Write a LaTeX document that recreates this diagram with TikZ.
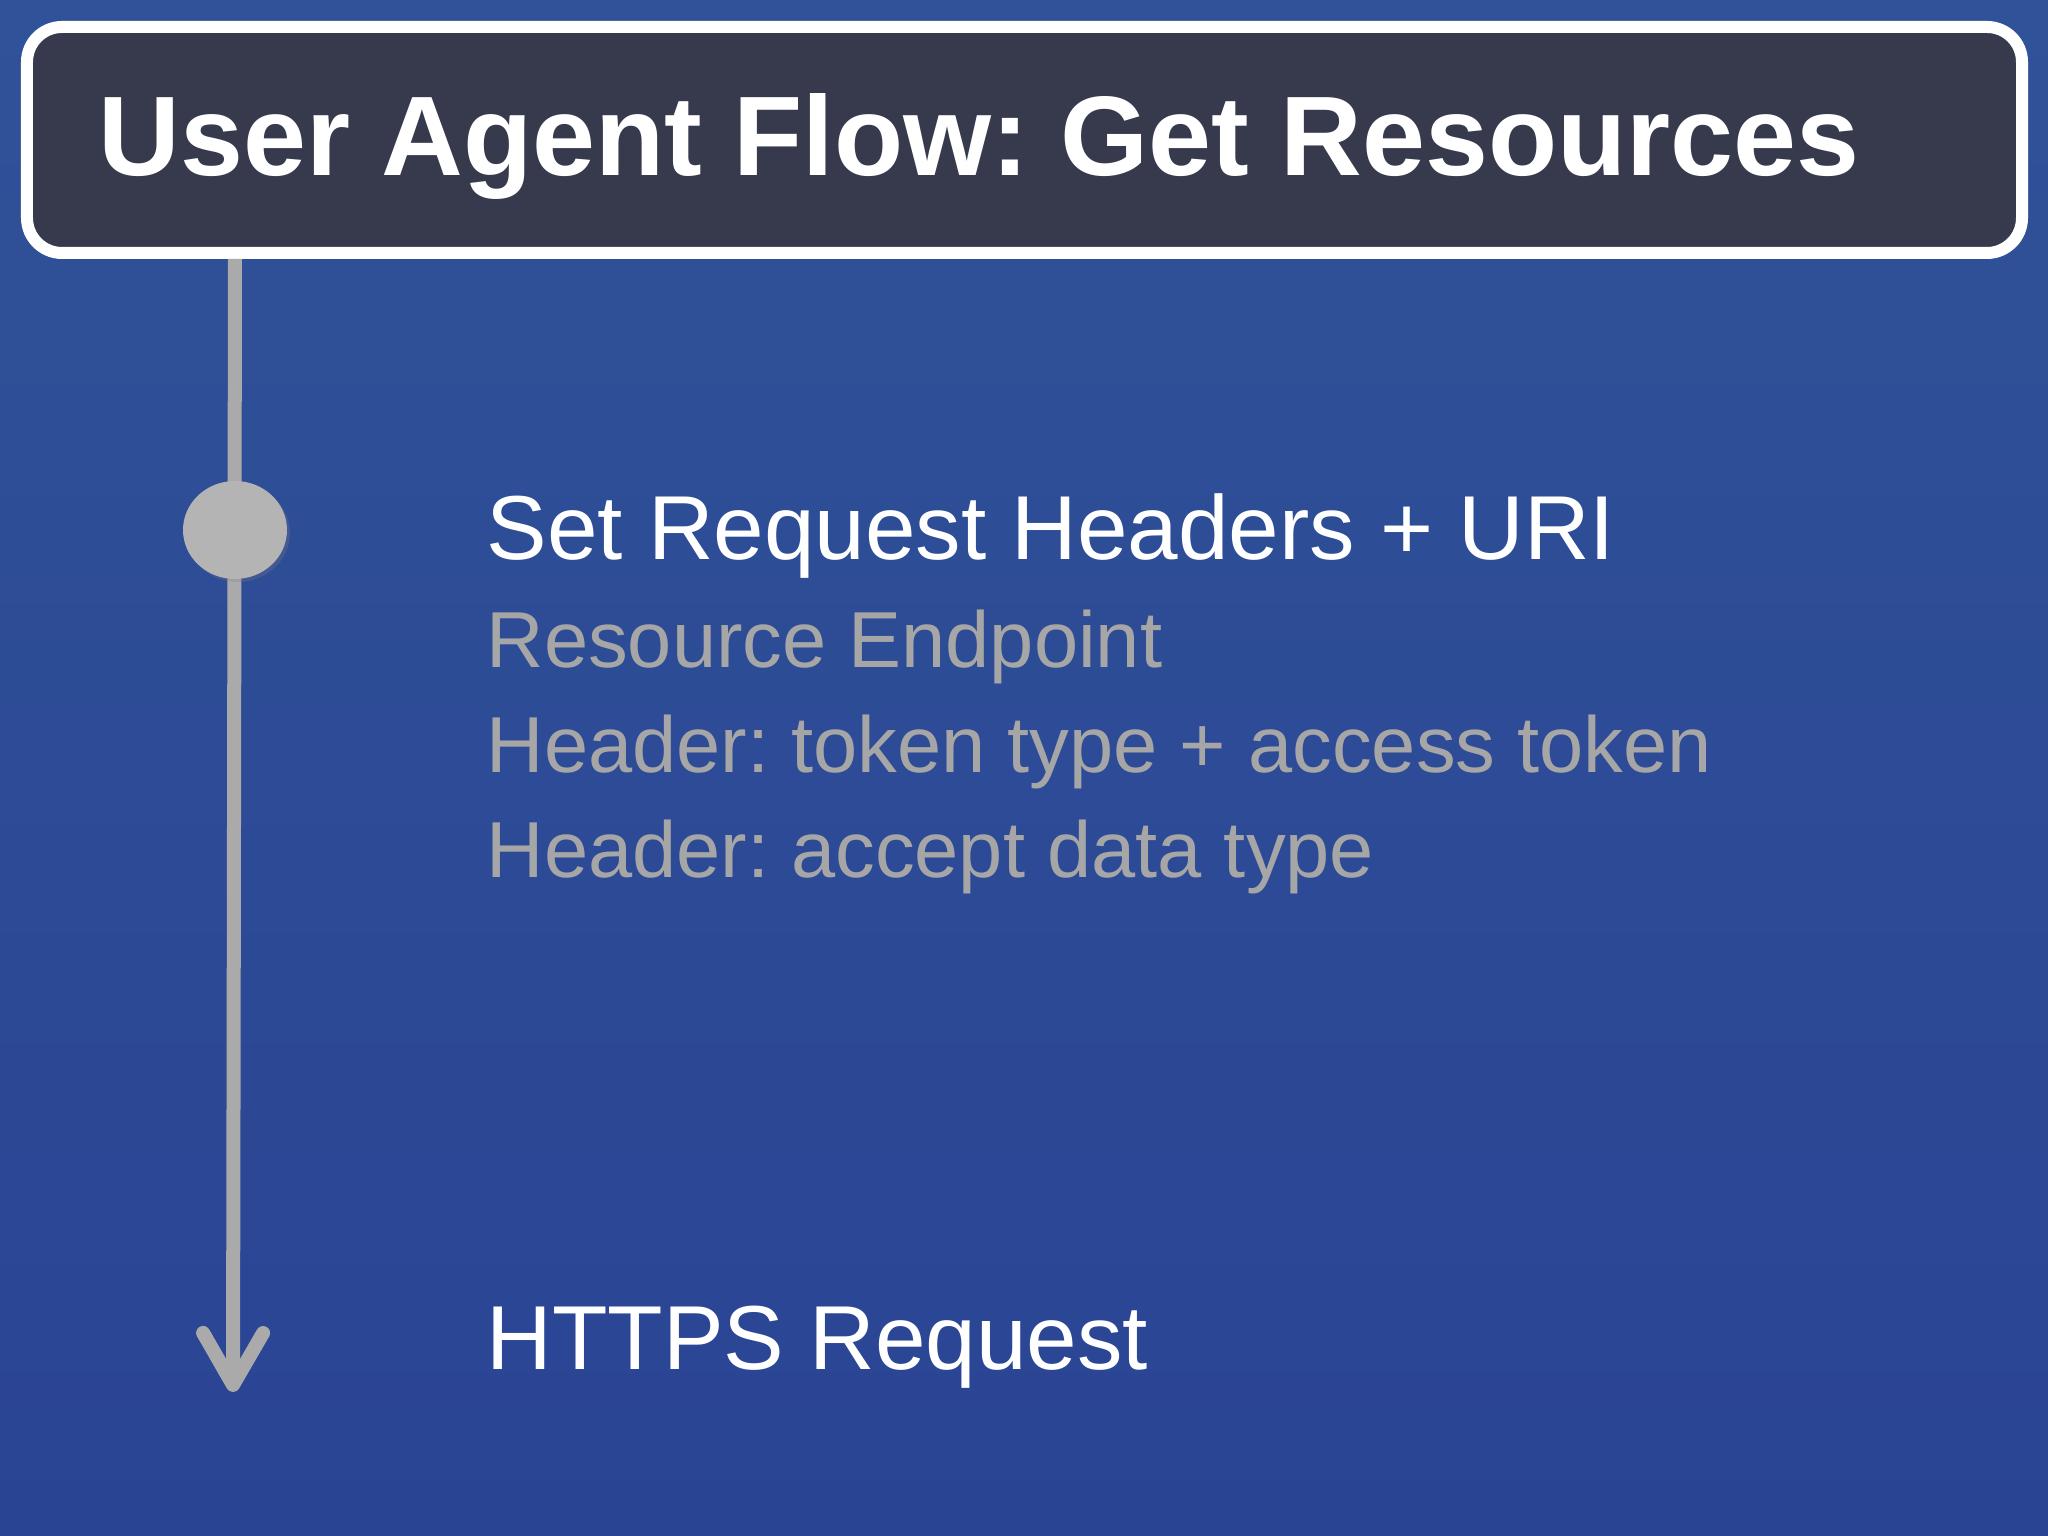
\documentclass[tikz,border=0pt]{standalone}
\usepackage{fontspec}
\setmainfont{Liberation Sans}
\frenchspacing
\usetikzlibrary{arrows.meta, shapes.geometric, shadows}
\definecolor{bgtop}{RGB}{48,82,152}
\definecolor{bgbottom}{RGB}{42,68,148}
\definecolor{titledark}{RGB}{54,58,76}
\definecolor{railgrey}{RGB}{170,170,170}
\definecolor{dotgrey}{RGB}{180,180,180}
\definecolor{notegrey}{RGB}{166,166,166}
\tikzset{
    headline/.style = {anchor = base west, inner sep = 0, text = white, font = \fontsize{25.85}{30}\selectfont},
    noteline/.style = {anchor = base west, inner sep = 0, text = notegrey, font = \fontsize{22.6}{27}\selectfont},
    rail/.style = {line width = 0.14cm, draw = railgrey, -{Straight Barb[length = 0.52cm, width = 0.6cm, round]}}
}

\begin{document}
\begin{tikzpicture}
    \useasboundingbox (0,0) rectangle (20.48,15.36);
    \fill[top color = bgtop, bottom color = bgbottom] (0,0) rectangle (20.48,15.36);
    % title bar
    \node (bar) at (10.245,13.96) [draw = white, line width = 0.12cm, fill = titledark, rounded corners = 0.35cm, minimum width = 19.95cm, minimum height = 2.26cm] {};
    \node (title) at (0.98,13.60) [anchor = base west, inner sep = 0, text = white, font = \fontsize{32.2}{38}\selectfont\bfseries] {User Agent Flow: Get Resources};
    % time line
    \coordinate (stop) at (2.35,10.06);
    \coordinate (tip) at (2.33,1.44);
    \draw[rail] (bar.south -| stop) -- (tip);
    \node (dot) at (stop) [ellipse, fill = dotgrey, inner sep = 0, minimum width = 1.04cm, minimum height = 0.98cm, drop shadow = {shadow xshift = 0.03cm, shadow yshift = -0.03cm, opacity = 0.25}] {};
    % steps
    \node (setreq) at (4.86,9.76) [headline] {Set Request Headers + URI};
    \node (endpoint) at (4.86,8.68) [noteline] {Resource Endpoint};
    \node (tokenhdr) at (4.86,7.63) [noteline] {Header: token type + access token};
    \node (accepthdr) at (4.86,6.58) [noteline] {Header: accept data type};
    \node (https) at (4.86,1.66) [headline] {HTTPS Request};
\end{tikzpicture}
\end{document}
